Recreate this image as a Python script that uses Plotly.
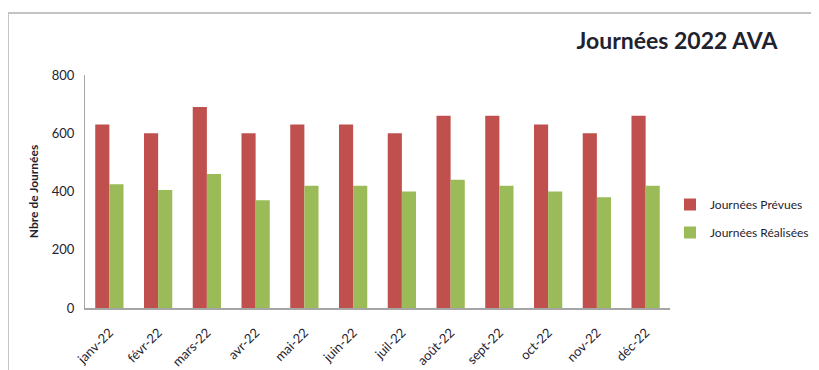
import plotly.graph_objects as go

months = ["janv-22", "févr-22", "mars-22", "avr-22", "mai-22", "juin-22",
          "juil-22", "août-22", "sept-22", "oct-22", "nov-22", "déc-22"]
prevues = [630, 600, 690, 600, 630, 630, 600, 660, 660, 630, 600, 660]
realisees = [425, 405, 460, 370, 420, 420, 400, 440, 420, 400, 380, 420]
y_ticks = [0, 200, 400, 600, 800]

FONT = "Lato"
TXT = "#1f2330"

fig = go.Figure()
fig.add_trace(go.Bar(x=months, y=prevues, name="Journées Prévues", legendgroup="a",
                     marker=dict(color="#C0504D", line=dict(width=0))))
fig.add_trace(go.Bar(x=months, y=realisees, name="Journées Réalisées", legendgroup="b",
                     marker=dict(color="#9BBB59", line=dict(width=0))))

# page offset of the plot div (body margin)
OFF = 8
L, R, T, B = 85, 670, 75, 308       # plot area in screen pixels
SW, SH = 819, 370                   # screen size
W, H = SW - OFF, SH - OFF
pw, ph = R - L, B - T

def px(x):
    return (x - L) / pw

def py(y):
    return (B - y) / ph

fig.update_layout(
    width=W, height=H,
    margin=dict(l=L - OFF, r=SW - R, t=T - OFF, b=SH - B, autoexpand=False),
    paper_bgcolor="white", plot_bgcolor="white",
    barmode="group", bargap=0.42, bargroupgap=0.0,
    font=dict(family=FONT, color=TXT),
    title=dict(text="<b>Journées 2022 AVA</b>", font=dict(size=23, family=FONT, color=TXT),
               xref="container", yref="container",
               x=(677 - OFF) / W, xanchor="center", y=1 - (41 - OFF) / H, yanchor="middle"),
    showlegend=True,
    legend=dict(x=px(670), y=py(190), xanchor="left", yanchor="top",
                font=dict(size=12, family=FONT, color=TXT),
                itemwidth=30, tracegroupgap=9, bgcolor="rgba(0,0,0,0)"),
    xaxis=dict(showgrid=False, showline=True, linecolor="#a6a6a6", linewidth=2,
               tickangle=-45, tickfont=dict(size=13, family=FONT, color=TXT),
               ticks="", zeroline=False, ticklabelstandoff=10),
    yaxis=dict(range=[0, 800], tickvals=y_ticks, showgrid=False, showline=True,
               linecolor="#a6a6a6", linewidth=1, ticks="", zeroline=False,
               tickfont=dict(size=13, family=FONT, color=TXT), ticklabelstandoff=7,
               title=dict(text="<b>Nbre de Journées</b>", font=dict(size=12, family=FONT, color=TXT),
                          standoff=10)),
    shapes=[
        dict(type="line", xref="paper", yref="paper", x0=px(8), x1=px(8),
             y0=py(13), y1=py(420), line=dict(color="#c4c4c4", width=2)),
        dict(type="line", xref="paper", yref="paper", x0=px(8), x1=px(900),
             y0=py(13), y1=py(13), line=dict(color="#c4c4c4", width=2)),
    ],
)

fig.write_html("out.html")
